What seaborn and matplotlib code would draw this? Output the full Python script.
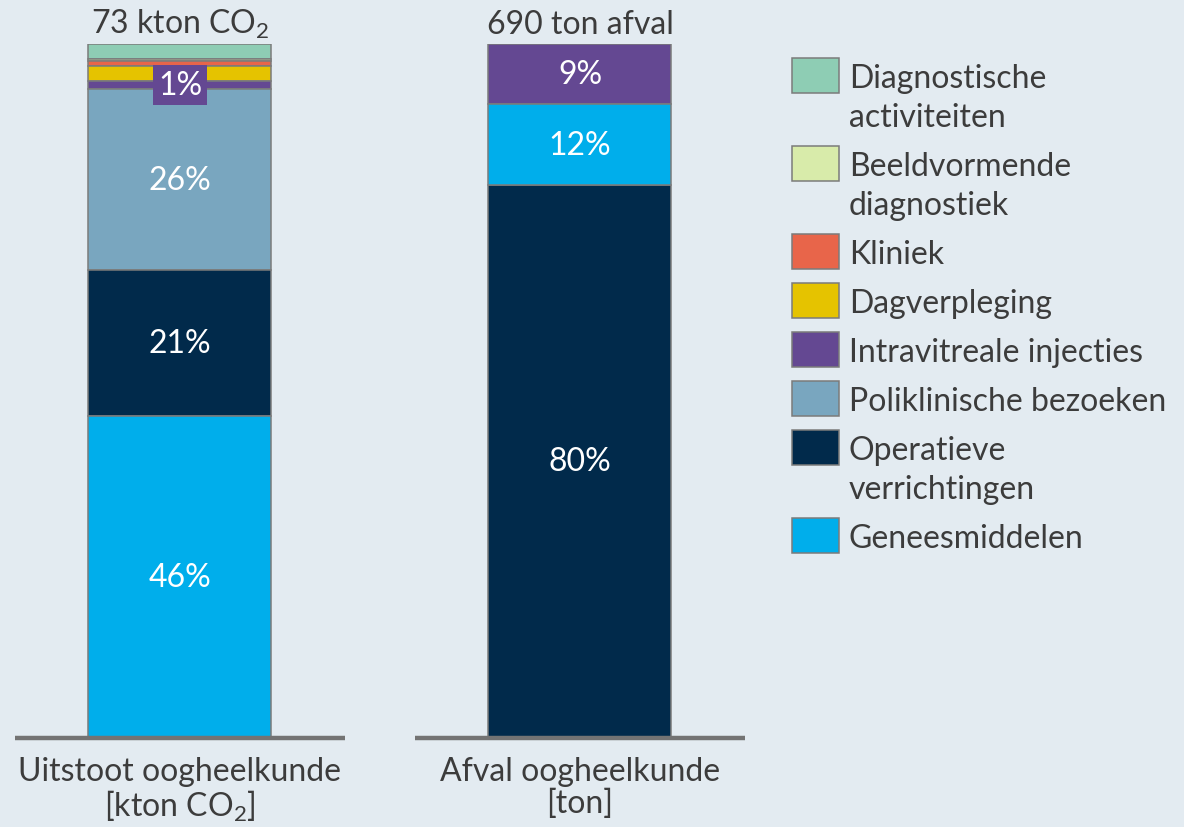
import matplotlib
matplotlib.use("Agg")
import matplotlib.pyplot as plt
from matplotlib.patches import Rectangle
import numpy as np
import pandas as pd
import seaborn as sns

# Categories as listed in the legend (top to bottom)
categorieen = [
    "Diagnostische activiteiten",
    "Beeldvormende diagnostiek",
    "Kliniek",
    "Dagverpleging",
    "Intravitreale injecties",
    "Poliklinische bezoeken",
    "Operatieve verrichtingen",
    "Geneesmiddelen",
]
legenda_labels = [
    "Diagnostische\nactiviteiten",
    "Beeldvormende\ndiagnostiek",
    "Kliniek",
    "Dagverpleging",
    "Intravitreale injecties",
    "Poliklinische bezoeken",
    "Operatieve\nverrichtingen",
    "Geneesmiddelen",
]
kleuren = [
    "#8ecdb4",
    "#d8ebaa",
    "#e8654a",
    "#e5c300",
    "#644892",
    "#79a6bf",
    "#012a4b",
    "#00aeeb",
]

bronnen = ["Uitstoot oogheelkunde\n[kton CO$_2$]", "Afval oogheelkunde\n[ton]"]
totalen = ["73 kton CO$_2$", "690 ton afval"]

# Share per category (%), same order as `categorieen`
uitstoot_pct = [2.2, 0.3, 0.6, 2.2, 1.2, 26.1, 21.0, 46.4]
afval_pct = [0.0, 0.0, 0.0, 0.0, 8.7, 0.0, 79.7, 11.6]

# Stacking order per bar, from the base upwards
stapel_uitstoot = [
    "Geneesmiddelen", "Operatieve verrichtingen", "Poliklinische bezoeken",
    "Intravitreale injecties", "Dagverpleging", "Kliniek",
    "Beeldvormende diagnostiek", "Diagnostische activiteiten",
]
stapel_afval = ["Operatieve verrichtingen", "Geneesmiddelen", "Intravitreale injecties"]

# Segments that carry a percentage label
gelabeld = [
    "Geneesmiddelen",
    "Operatieve verrichtingen",
    "Poliklinische bezoeken",
    "Intravitreale injecties",
]

# Long-form table with stack offsets
rows = []
for bron, waarden, stapel in zip(bronnen, [uitstoot_pct, afval_pct],
                                 [stapel_uitstoot, stapel_afval]):
    lookup = dict(zip(categorieen, waarden))
    onder = 0.0
    for cat in stapel:
        w = lookup[cat]
        if w > 0:
            rows.append({"bron": bron, "categorie": cat, "pct": w, "onder": onder})
        onder += w
df = pd.DataFrame(rows)

sns.set_theme(style="white")
achtergrond = "#e3ebf1"
tekstkleur = "#3c3c3c"
plt.rcParams["font.family"] = ["Lato", "DejaVu Sans"]
plt.rcParams["mathtext.fontset"] = "custom"
plt.rcParams["mathtext.rm"] = "Lato"
plt.rcParams["mathtext.it"] = "Lato"
plt.rcParams["mathtext.bf"] = "Lato:bold"
plt.rcParams["text.color"] = tekstkleur

W, H = 1184, 828
fig = plt.figure(figsize=(W / 100, H / 100), dpi=100, facecolor=achtergrond)
ax = fig.add_axes([10 / W, 89 / H, 740 / W, 694 / H])
ax.set_facecolor(achtergrond)

fs = 23
kleur_van = dict(zip(categorieen, kleuren))
for cat in categorieen:
    sub = df[df["categorie"] == cat]
    if sub.empty:
        continue
    sns.barplot(
        data=sub, x="bron", y="pct", order=bronnen,
        bottom=sub["onder"].to_numpy(), color=kleur_van[cat], saturation=1,
        width=0.4575, edgecolor="#7b7b7b", linewidth=1.1,
        errorbar=None, ax=ax, zorder=2,
    )

# Percentage labels inside the segments; thin segments get a filled box
for _, r in df.iterrows():
    if r["categorie"] not in gelabeld:
        continue
    xpos = bronnen.index(r["bron"])
    kw = {}
    if r["pct"] < 5:
        kw["bbox"] = dict(facecolor=kleur_van[r["categorie"]], edgecolor="none",
                          boxstyle="square,pad=0.15")
    ax.text(xpos, r["onder"] + r["pct"] / 2, f"{r['pct']:.0f}%",
            ha="center", va="center", color="white", fontsize=fs, zorder=6, **kw)

# Totals above the bars
for i, t in enumerate(totalen):
    tot = df.loc[df["bron"] == bronnen[i], "pct"].sum()
    ax.annotate(t, (i, tot), xytext=(0, 8), textcoords="offset points",
                ha="center", va="baseline", fontsize=fs, color=tekstkleur,
                annotation_clip=False)

# Base line under each bar
for i in range(len(bronnen)):
    ax.hlines(0, i - 0.4125, i + 0.4125, color="#737373", lw=3.2,
              clip_on=False, zorder=5)

ax.set_xlim(-0.425, 1.425)
ax.set_ylim(0, 100)
ax.set_yticks([])
ax.set_xlabel("")
ax.set_ylabel("")
sns.despine(ax=ax, left=True, bottom=True)
ax.tick_params(axis="x", length=0, pad=13, labelsize=fs, labelcolor=tekstkleur)
for lbl in ax.get_xticklabels():
    lbl.set_linespacing(1.06)

# Legend drawn in pixel space, first text line aligned with the swatch
lax = fig.add_axes([0, 0, 1, 1])
lax.set_xlim(0, W)
lax.set_ylim(H, 0)
lax.axis("off")
top = 59
for lab, kleur in zip(legenda_labels, kleuren):
    lax.add_patch(Rectangle((792, top), 47, 35, facecolor=kleur,
                            edgecolor="#7b7b7b", lw=1.1))
    regels = lab.split("\n")
    for k, regel in enumerate(regels):
        lax.text(849, top + 29 + 39 * k, regel, ha="left", va="baseline",
                 fontsize=fs, color=tekstkleur)
    top += 49 + 39 * (len(regels) - 1)

fig.savefig("out.png", dpi=100, facecolor=achtergrond)
